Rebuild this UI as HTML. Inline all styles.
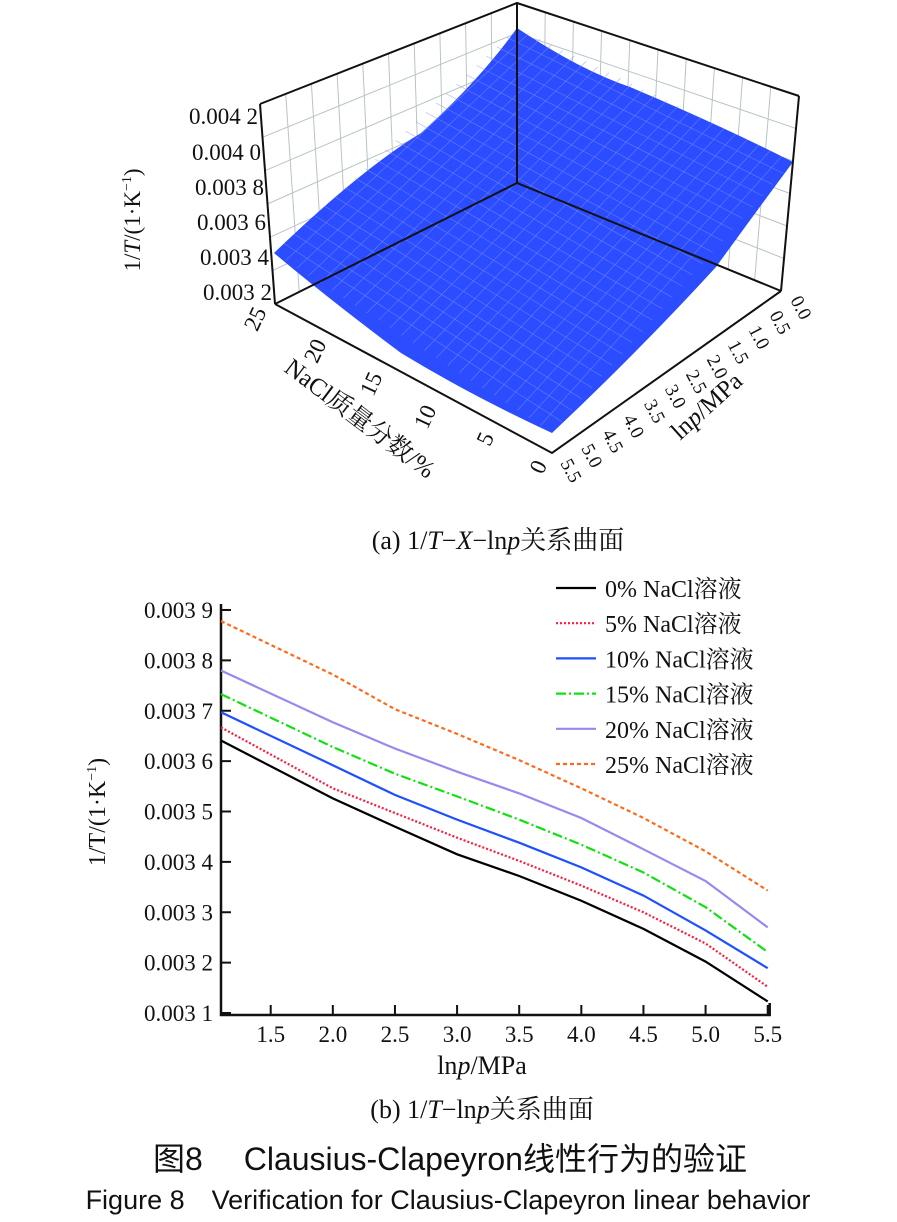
<!DOCTYPE html>
<html><head><meta charset="utf-8"><style>
body{margin:0;background:#fff;width:897px;height:1217px;overflow:hidden}
svg text{font-family:"Liberation Serif","Noto Serif CJK SC",serif;fill:#111}
</style></head><body>
<svg width="897" height="1217" viewBox="0 0 897 1217">
<g id="plot3d">
  <g id="grid3d" stroke="#b8c4c8" stroke-width="1" fill="none"></g>
  <path d="M274,253 Q360,170 421,133 Q480,80 517,28 Q580,70 630,87 Q720,125 793,162 Q750,220 716,267 Q640,350 552,433 Q470,395 401,353 Q330,300 274,253 Z" fill="#2b4cff"/>
  <g id="mesh" stroke="#7f93ff" stroke-width="0.6" opacity="0.7"></g>
  <g stroke="#111" stroke-width="2" fill="none">
    <polyline points="260,104 517,3 799,96"/>
    <line x1="517" y1="3" x2="517" y2="183"/>
    <line x1="260" y1="104" x2="275" y2="304"/>
    <line x1="799" y1="96" x2="781" y2="291"/>
    <polyline points="275,304 517,183 781,291"/>
    <polyline points="275,304 552,453 781,291"/>
  </g>
  <g font-size="23" text-anchor="end">
    <text x="258" y="124">0.004 2</text><text x="261" y="160">0.004 0</text>
    <text x="264" y="195">0.003 8</text><text x="266" y="230">0.003 6</text>
    <text x="269" y="265">0.003 4</text><text x="272" y="300">0.003 2</text>
  </g>
  <text transform="translate(140,220) rotate(-90)" font-size="23" text-anchor="middle">1/<tspan font-style="italic">T</tspan>/(1·K<tspan font-size="14" dy="-9">−1</tspan><tspan dy="9">)</tspan></text>
  <g font-size="23" text-anchor="middle">
    <text transform="translate(262,322) rotate(-65)">25</text>
    <text transform="translate(322,354) rotate(-65)">20</text>
    <text transform="translate(378,387) rotate(-65)">15</text>
    <text transform="translate(432,420) rotate(-65)">10</text>
    <text transform="translate(492,442) rotate(-65)">5</text>
    <text transform="translate(545,470) rotate(-65)">0</text>
  </g>
  <text transform="translate(355,425) rotate(37)" font-size="25" text-anchor="middle">NaCl质量分数/%</text>
  <g id="lnpticks" font-size="19"></g>
  <text transform="translate(712,412) rotate(-42)" font-size="25" text-anchor="middle">ln<tspan font-style="italic">p</tspan>/MPa</text>
</g>
<text x="498" y="549" font-size="26" text-anchor="middle">(a)  1/<tspan font-style="italic">T</tspan>−<tspan font-style="italic">X</tspan>−ln<tspan font-style="italic">p</tspan>关系曲面</text>

<g id="chart2d"></g>
<text transform="translate(105,812) rotate(-90)" font-size="24" text-anchor="middle">1/T/(1·K<tspan font-size="14" dy="-9">−1</tspan><tspan dy="9">)</tspan></text>
<text x="482" y="1074" font-size="26" text-anchor="middle">ln<tspan font-style="italic">p</tspan>/MPa</text>
<text x="482" y="1118" font-size="26" text-anchor="middle">(b)  1/<tspan font-style="italic">T</tspan>−ln<tspan font-style="italic">p</tspan>关系曲面</text>
<text x="450" y="1170" font-size="32" text-anchor="middle" style='font-family:"Liberation Sans","Noto Sans CJK SC",sans-serif'>图8　 Clausius-Clapeyron线性行为的验证</text>
<text x="448" y="1209" font-size="27" text-anchor="middle" style='font-family:"Liberation Sans",sans-serif'>Figure 8　Verification for Clausius-Clapeyron linear behavior</text>
</svg>
<script>
const NS='http://www.w3.org/2000/svg';
function mk(t,a,p){const e=document.createElementNS(NS,t);for(const k in a)e.setAttribute(k,a[k]);p.appendChild(e);return e;}
// 3D decorations
const g3=document.getElementById('grid3d');
for(let i=1;i<10;i++){const t=i/10;
 const a=mk('line',{x1:260+(517-260)*t,y1:104+(3-104)*t,x2:275+(517-275)*t,y2:304+(183-304)*t},g3);
 
 
 const b=mk('line',{x1:517+(799-517)*t,y1:3+(96-3)*t,x2:517+(781-517)*t,y2:183+(291-183)*t},g3);
 
 }
for(let j=1;j<6;j++){const t=j/6;
 const a=mk('line',{x1:275+(260-275)*t,y1:304+(104-304)*t,x2:517,y2:183-180*t},g3);
 
 
 const b=mk('line',{x1:517,y1:183-180*t,x2:781+(799-781)*t,y2:291+(96-291)*t},g3);
 
 }
const me=document.getElementById('mesh');
for(let i=1;i<24;i++){const t=i/24;
 const a=mk('line',{x1:274+(517-274)*t,y1:253+(28-253)*t,x2:552+(793-552)*t,y2:433+(162-433)*t},me);
 
 
 const b=mk('line',{x1:274+(552-274)*t,y1:253+(433-253)*t,x2:517+(793-517)*t,y2:28+(162-28)*t},me);
 
 }
const lt=document.getElementById('lnpticks');
const lnpLabels=['0.0','0.5','1.0','1.5','2.0','2.5','3.0','3.5','4.0','4.5','5.0','5.5'];
lnpLabels.forEach((s,i)=>{const t=i/11;const x=790-(790-560)*t,y=300+(463-300)*t;
 const e=mk('text',{transform:`translate(${x},${y}) rotate(62)`},lt);e.textContent=s;
 
 });

// 2D chart data
const xVals=[1.1,2.0,2.5,3.0,3.5,4.0,4.5,5.0,5.5];
const s0=[3.641,3.526,3.470,3.415,3.372,3.323,3.267,3.202,3.123];
const s5=[3.667,3.546,3.497,3.448,3.402,3.353,3.300,3.238,3.152];
const s10=[3.697,3.592,3.533,3.484,3.438,3.389,3.333,3.264,3.189];
const s15=[3.733,3.628,3.575,3.530,3.484,3.434,3.379,3.310,3.221];
const s20=[3.780,3.677,3.625,3.579,3.536,3.487,3.425,3.362,3.270];
const s25=[3.878,3.772,3.703,3.654,3.602,3.546,3.487,3.421,3.343];
const seriesNames=['0% NaCl溶液','5% NaCl溶液','10% NaCl溶液','15% NaCl溶液','20% NaCl溶液','25% NaCl溶液'];
const xTicks=[1.5,2.0,2.5,3.0,3.5,4.0,4.5,5.0,5.5];
const yTicks=[3.1,3.2,3.3,3.4,3.5,3.6,3.7,3.8,3.9];
const yTickLabels=['0.003 1','0.003 2','0.003 3','0.003 4','0.003 5','0.003 6','0.003 7','0.003 8','0.003 9'];

const series=[s0,s5,s10,s15,s20,s25];
const styles=[{c:'#000',d:''},{c:'#ff1a3c',d:'2,2'},{c:'#1f4fff',d:''},{c:'#11e011',d:'10,3,2,3'},{c:'#9b88ee',d:''},{c:'#ff6a1a',d:'4,3'}];
const X=v=>221+(v-1.1)*(763-266)/4.0;
const Y=v=>1013-(v-3.1)*(1013-610)/0.8;
const c=document.getElementById('chart2d');
const ax=mk('polyline',{points:`221,${Y(3.9)-6} 221,1015 ${X(5.5)+2},1015 ${X(5.5)+2},1003`,fill:'none',stroke:'#111','stroke-width':2.5},c);


xTicks.forEach(v=>{const l=mk('line',{x1:X(v),x2:X(v),y1:1015,y2:1005,stroke:'#111','stroke-width':2},c);
 
 
 const t=mk('text',{x:X(v),y:1042,'font-size':23,'text-anchor':'middle'},c);t.textContent=v.toFixed(1);
 
 });
yTicks.forEach((v,i)=>{const l=mk('line',{x1:221,x2:231,y1:Y(v),y2:Y(v),stroke:'#111','stroke-width':2},c);
 
 
 const t=mk('text',{x:213,y:Y(v)+8,'font-size':23,'text-anchor':'end'},c);t.textContent=yTickLabels[i];
 
 });
series.forEach((s,k)=>{
 let d='';s.forEach((v,i)=>{d+=(i?' L':'M')+X(xVals[i]).toFixed(1)+','+Y(v).toFixed(1);});
 const p=mk('path',{d:d,fill:'none',stroke:styles[k].c,'stroke-width':2.2,'stroke-dasharray':styles[k].d},c);
 
 
 const ly=588+k*35.2;
 const l=mk('line',{x1:556,x2:596,y1:ly,y2:ly,stroke:styles[k].c,'stroke-width':2.2,'stroke-dasharray':styles[k].d},c);
 
 
 const t=mk('text',{x:605,y:ly+9,'font-size':24},c);t.textContent=seriesNames[k];
 
 
});
</script>
</body></html>
